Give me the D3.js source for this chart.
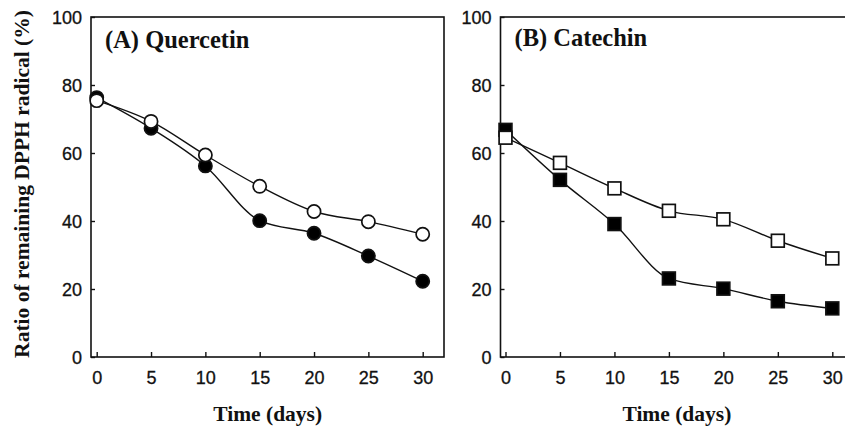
<!DOCTYPE html>
<html><head><meta charset="utf-8">
<script src="https://cdn.jsdelivr.net/npm/d3@7"></script>
<style>body{margin:0;background:#fff}svg{display:block}</style>
</head><body>
<svg id="c" width="845" height="430"></svg>
<script>
const days = [0, 5, 10, 15, 20, 25, 30];
const quercetinFilled = [76.3, 67.3, 56.2, 40.1, 36.4, 29.7, 22.3];
const quercetinOpen   = [75.4, 69.3, 59.4, 50.2, 42.8, 39.8, 36.1];
const catechinFilled  = [66.8, 52.1, 39.1, 23.1, 20.1, 16.4, 14.3];
const catechinOpen    = [64.5, 57.1, 49.6, 43.0, 40.5, 34.2, 29.0];
const yTicks = [0, 20, 40, 60, 80, 100];
const xTicks = [0, 5, 10, 15, 20, 25, 30];
const panelTitles = ["(A) Quercetin", "(B) Catechin"];

const svg = d3.select("#c");
const plotTop = 17, plotBottom = 357;
const y = d3.scaleLinear().domain([0, 100]).range([plotBottom, plotTop]);

const panels = [
  {left: 91, right: 444, x0: 96.7, x30: 422.7, title: panelTitles[0], series: [
    {vals: quercetinFilled, shape: "circle", fill: "#000"},
    {vals: quercetinOpen, shape: "circle", fill: "#fff"}]},
  {left: 500.5, right: 850, x0: 505.5, x30: 832.3, title: panelTitles[1], series: [
    {vals: catechinFilled, shape: "square", fill: "#000"},
    {vals: catechinOpen, shape: "square", fill: "#fff"}]}
];

const sans = "Liberation Sans, Arial, sans-serif";
const serif = "Liberation Serif, Times New Roman, serif";

panels.forEach((p, pi) => {
  const x = d3.scaleLinear().domain([0, 30]).range([p.x0, p.x30]);
  const g = svg.append("g");
  g.append("rect").attr("x", p.left).attr("y", plotTop)
    .attr("width", p.right - p.left).attr("height", plotBottom - plotTop)
    .attr("fill", "none").attr("stroke", "#111").attr("stroke-width", 1.6);
  const xa = g.append("g").attr("transform", `translate(0,${plotBottom})`)
    .call(d3.axisBottom(x).tickValues(xTicks).tickSize(-5).tickPadding(0).tickFormat(d3.format("d")));
  xa.select(".domain").remove();
  xa.selectAll("line").attr("stroke", "#111").attr("stroke-width", 1.4);
  xa.selectAll("text").attr("dy", null).attr("y", 27)
    .attr("font-family", sans).attr("font-size", 18).attr("fill", "#111")
    .attr("stroke", "#111").attr("stroke-width", 0.3);
  const ya = g.append("g").attr("transform", `translate(${p.left},0)`)
    .call(d3.axisLeft(y).tickValues(yTicks).tickSize(-4).tickPadding(9));
  ya.select(".domain").remove();
  ya.selectAll("line").attr("stroke", "#111").attr("stroke-width", 1.4);
  ya.selectAll("text").attr("font-family", sans)
    .attr("font-size", 18).attr("fill", "#111").attr("dy", "0.36em")
    .attr("stroke", "#111").attr("stroke-width", 0.3);
  g.append("text").attr("x", p.left + 14).attr("y", pi === 0 ? 48 : 46)
    .attr("font-family", serif).attr("font-weight", "bold")
    .attr("font-size", 24.5).attr("fill", "#111").text(p.title);
  g.append("text").attr("x", (p.x0 + p.x30) / 2 + 8).attr("y", 421).attr("text-anchor", "middle")
    .attr("font-family", serif).attr("font-weight", "bold")
    .attr("font-size", 21.5).attr("fill", "#111").text("Time (days)");
  const line = d3.line().x((d, i) => x(days[i])).y(d => y(d)).curve(d3.curveMonotoneX);
  p.series.forEach(s => {
    g.append("path").attr("d", line(s.vals)).attr("fill", "none")
      .attr("stroke", "#111").attr("stroke-width", 1.4);
  });
  p.series.forEach(s => {
    const m = g.selectAll(null).data(s.vals).enter();
    if (s.shape === "circle") {
      m.append("circle").attr("cx", (d, i) => x(days[i])).attr("cy", d => y(d)).attr("r", 6.6)
        .attr("fill", s.fill).attr("stroke", "#111").attr("stroke-width", 1.7);
    } else {
      m.append("rect").attr("x", (d, i) => x(days[i]) - 6.4).attr("y", d => y(d) - 6.4)
        .attr("width", 12.8).attr("height", 12.8)
        .attr("fill", s.fill).attr("stroke", "#111").attr("stroke-width", 1.7);
    }
  });
});

svg.append("text").attr("transform", "translate(29,184) rotate(-90)").attr("text-anchor", "middle")
  .attr("font-family", serif).attr("font-weight", "bold")
  .attr("font-size", 21.5).attr("fill", "#111").text("Ratio of remaining DPPH radical (%)");
</script>
</body></html>
